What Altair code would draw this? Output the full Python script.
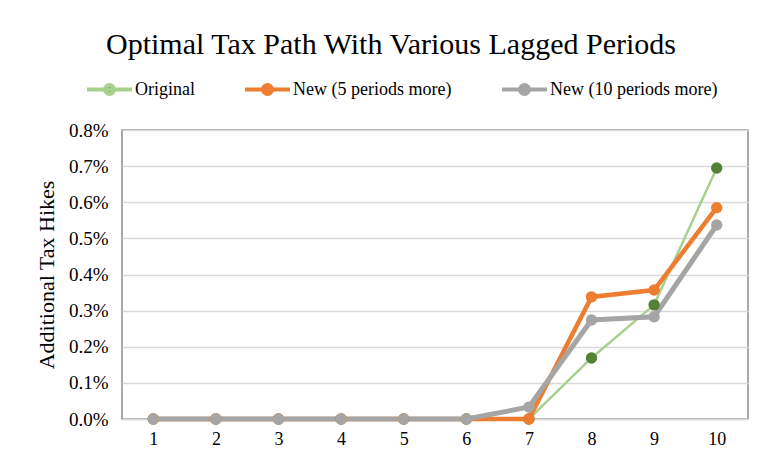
import altair as alt
import pandas as pd

periods = [1, 2, 3, 4, 5, 6, 7, 8, 9, 10]
series_names = ["Original", "New (5 periods more)", "New (10 periods more)"]
original = [0.0, 0.0, 0.0, 0.0, 0.0, 0.0, 0.0, 0.00169, 0.00316, 0.00695]
new5 = [0.0, 0.0, 0.0, 0.0, 0.0, 0.0, 0.0, 0.00338, 0.00357, 0.00585]
new10 = [0.0, 0.0, 0.0, 0.0, 0.0, 0.0, 0.00033, 0.00274, 0.00283, 0.00537]
y_ticks = [0.0, 0.001, 0.002, 0.003, 0.004, 0.005, 0.006, 0.007, 0.008]

line_colors = ["#a9d18e", "#ed7d31", "#a5a5a5"]
marker_colors = ["#548235", "#ed7d31", "#a5a5a5"]

rows = []
for name, vals in zip(series_names, [original, new5, new10]):
    for p, v in zip(periods, vals):
        rows.append({"period": p, "value": v, "series": name})
df = pd.DataFrame(rows)

FONT = "Liberation Serif"
sym_path = "M-1,0L1,0M-0.2,0A0.2,0.2,0,1,1,0.2,0A0.2,0.2,0,1,1,-0.2,0Z"

legend = alt.Legend(
    title=None, orient="none", direction="horizontal",
    legendX=-37, legendY=-65,
    symbolType=sym_path, symbolSize=2025, symbolStrokeWidth=4,
    labelFont=FONT, labelFontSize=18, labelColor="black", labelOffset=1,
    labelLimit=400, columnPadding=42,
)

x = alt.X("period:O", axis=alt.Axis(
    title=None, labelAngle=0, ticks=False, domainColor="#d9d9d9", domainWidth=1.5,
    labelFont=FONT, labelFontSize=18, labelColor="black", labelPadding=11))
y = alt.Y("value:Q", scale=alt.Scale(domain=[0, 0.008]), axis=alt.Axis(
    values=y_ticks, format=".1%", title="Additional Tax Hikes", ticks=False, domain=False,
    gridColor="#d9d9d9", gridWidth=1.5,
    labelFont=FONT, labelFontSize=19, labelColor="black", labelPadding=14,
    titleFont=FONT, titleFontSize=22, titleFontWeight="normal", titleColor="black",
    titlePadding=10))

base = alt.Chart(df)

lines = base.mark_line().encode(
    x=x, y=y,
    stroke=alt.Stroke("series:N", scale=alt.Scale(domain=series_names, range=line_colors), legend=legend),
    strokeWidth={
        "condition": [
            {"test": "datum.series === 'Original'", "value": 2.5},
            {"test": "datum.series === 'New (5 periods more)'", "value": 4.5},
        ],
        "value": 5,
    },
)
points = base.mark_point(filled=True, size=130, opacity=1).encode(
    x=x, y=y,
    fill=alt.Fill("series:N", scale=alt.Scale(domain=series_names, range=marker_colors), legend=legend),
)

chart = alt.layer(lines, points).properties(
    width=626, height=289,
    autosize=alt.AutoSizeParams(type="none"),
    padding={"left": 122, "top": 130, "right": 13, "bottom": 45},
    title=alt.TitleParams(
        "Optimal Tax Path With Various Lagged Periods", font=FONT, fontSize=30,
        fontWeight="normal", color="black", anchor="middle", offset=5, dx=-44),
).configure(
    background="white", font=FONT
).configure_view(
    stroke="#8c8c8c", strokeWidth=1.5
).configure_axis(
    labelFont=FONT, titleFont=FONT
).configure_legend(
    labelFont=FONT
)

chart.save("out.html", embed_options={"renderer": "svg", "actions": False})
